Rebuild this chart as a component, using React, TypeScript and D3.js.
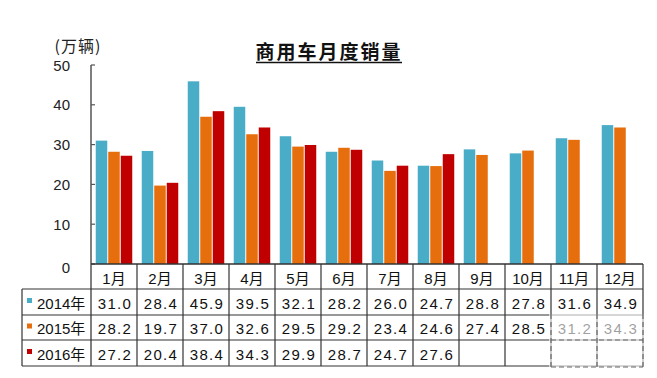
import React from 'react';
import * as d3 from 'd3';

const months = ['1月', '2月', '3月', '4月', '5月', '6月', '7月', '8月', '9月', '10月', '11月', '12月'];
const seriesNames = ['2014年', '2015年', '2016年'];
const s2014 = [31.0, 28.4, 45.9, 39.5, 32.1, 28.2, 26.0, 24.7, 28.8, 27.8, 31.6, 34.9];
const s2015 = [28.2, 19.7, 37.0, 32.6, 29.5, 29.2, 23.4, 24.6, 27.4, 28.5, 31.2, 34.3];
const s2016 = [27.2, 20.4, 38.4, 34.3, 29.9, 28.7, 24.7, 27.6];
const colors = ['#4aadc8', '#e66e0d', '#c00000'];
const yTicks = [0, 10, 20, 30, 40, 50];
const title = '商用车月度销量';
const unit = '(万辆)';

const W = 657;
const H = 378;

export default function App() {
  const series = [s2014, s2015, s2016];
  const x = d3.scaleBand<string>().domain(months).range([91, 643]);
  const xi = d3.scaleBand<string>().domain(seriesNames).range([0, x.bandwidth()]).paddingInner(0.08).paddingOuter(0.38);
  const y = d3.scaleLinear().domain([0, 50]).range([264, 65]);
  const rowTops = [264, 289, 315, 340, 366];
  const leftX = 22;
  const rightX = 643;
  const font = '"Liberation Sans", Arial, "Noto Sans CJK SC", sans-serif';
  const lineColor = '#333';

  return (
    <svg width={W} height={H} style={{ position: 'absolute', left: 0, top: 0, background: '#fff' }} fontFamily={font}>
      <rect x={0} y={0} width={W} height={H} fill="#fff" />
      {/* title */}
      <text x={329} y={59} textAnchor="middle" fontSize={19} fontWeight="bold" letterSpacing={2} fill="#111"
        fontFamily='"Noto Sans CJK SC", sans-serif'>{title}</text>
      <line x1={256} x2={402} y1={62.5} y2={62.5} stroke="#111" strokeWidth={1.5} />
      {/* unit */}
      <text x={78} y={52} textAnchor="middle" fontSize={16} letterSpacing={1} fill="#222" fontFamily='"Noto Sans CJK SC", sans-serif'>{unit}</text>

      {/* bars */}
      {series.map((vals, si) =>
        vals.map((v, i) => (
          <rect key={`b${si}-${i}`}
            x={(x(months[i]) as number) + (xi(seriesNames[si]) as number)}
            y={y(v)}
            width={xi.bandwidth()}
            height={y(0) - y(v)}
            fill={colors[si]} />
        ))
      )}

      {/* y axis */}
      <line x1={91} x2={91} y1={y(50)} y2={rowTops[4]} stroke="#555" strokeWidth={1.5} />
      {yTicks.map(t => (
        <g key={`t${t}`}>
          <line x1={91} x2={95} y1={y(t)} y2={y(t)} stroke="#555" strokeWidth={1.2} />
          <text x={70} y={t === 0 ? y(t) + 3 : y(t)} dominantBaseline="central" textAnchor="end" fontSize={15} fill="#222">{t}</text>
        </g>
      ))}

      {/* table horizontal lines */}
      <line x1={91} x2={rightX} y1={rowTops[0]} y2={rowTops[0]} stroke={lineColor} strokeWidth={1.5} />
      {rowTops.slice(1).map((ry, i) => (
        <line key={`h${i}`} x1={leftX} x2={rightX} y1={ry} y2={ry} stroke={lineColor} strokeWidth={1.2} />
      ))}
      {/* table vertical lines */}
      <line x1={leftX} x2={leftX} y1={rowTops[1]} y2={rowTops[4]} stroke={lineColor} strokeWidth={1.2} />
      {months.map((m, i) => (
        <line key={`v${i}`} x1={(x(m) as number) + x.bandwidth()} x2={(x(m) as number) + x.bandwidth()}
          y1={rowTops[0]} y2={rowTops[4]} stroke={lineColor} strokeWidth={1.2} />
      ))}

      {/* month headers */}
      {months.map(m => (
        <text key={`m${m}`} x={(x(m) as number) + x.bandwidth() / 2} y={(rowTops[0] + rowTops[1]) / 2 + 2}
          textAnchor="middle" dominantBaseline="central" fontSize={15} fill="#111">{m}</text>
      ))}

      {/* series rows */}
      {series.map((vals, si) => {
        const cy = (rowTops[si + 1] + rowTops[si + 2]) / 2 + 1;
        return (
          <g key={`r${si}`}>
            <rect x={27} y={cy - 5} width={5} height={5} fill={colors[si]} />
            <text x={37} y={cy} dominantBaseline="central" fontSize={15} fill="#111">{seriesNames[si]}</text>
            {vals.map((v, i) => (
              <text key={`c${si}-${i}`} x={(x(months[i]) as number) + x.bandwidth() / 2 + 1} y={cy}
                textAnchor="middle" dominantBaseline="central" fontSize={15} letterSpacing={1.3} fill="#111">{v.toFixed(1)}</text>
            ))}
          </g>
        );
      })}

      {/* watermark overlay */}
      <rect x={549} y={314} width={108} height={56} fill="#fff" opacity={0.6} />
      <g stroke="#666" strokeWidth={1.2} strokeDasharray="5,3" fill="none">
        <line x1={551} x2={551} y1={314} y2={367} />
        <line x1={597} x2={597} y1={314} y2={367} />
        <line x1={643} x2={643} y1={314} y2={367} />
        <line x1={551} x2={643} y1={340} y2={340} />
        <line x1={551} x2={643} y1={367} y2={367} />
      </g>
    </svg>
  );
}
